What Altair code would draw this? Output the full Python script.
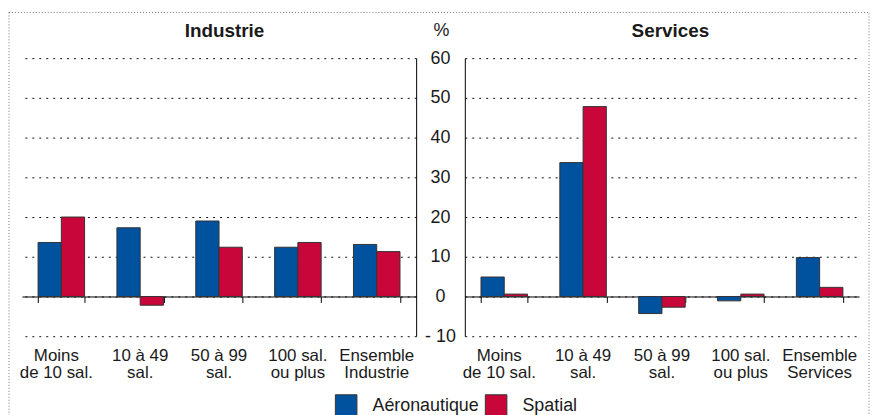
import altair as alt
import pandas as pd

# ---- data ----
cats_ind = ["Moins|de 10 sal.", "10 à 49|sal.", "50 à 99|sal.", "100 sal.|ou plus", "Ensemble|Industrie"]
cats_srv = ["Moins|de 10 sal.", "10 à 49|sal.", "50 à 99|sal.", "100 sal.|ou plus", "Ensemble|Services"]
series = ["Aéronautique", "Spatial"]
ind_aero = [13.6, 17.3, 19.0, 12.4, 13.1]
ind_spat = [20.0, -2.2, 12.4, 13.6, 11.3]
srv_aero = [4.9, 33.7, -4.3, -1.1, 9.8]
srv_spat = [0.6, 47.8, -2.7, 0.6, 2.3]
panel_titles = ["Industrie", "Services"]
y_ticks = [-10, 0, 10, 20, 30, 40, 50, 60]
colors = ["#00519E", "#C8063A"]

FONT = "Liberation Sans"
TXT = "#1a1a1a"
FS = 18
XFS = 17
W, H = 397, 280


def make_df(cats, aero, spat):
    rows = []
    for c, a, s in zip(cats, aero, spat):
        rows.append({"cat": c, "series": series[0], "value": a})
        rows.append({"cat": c, "series": series[1], "value": s})
    return pd.DataFrame(rows)


yscale = alt.Scale(domain=[-10, 60], nice=False, zero=False)
legend = alt.Legend(
    title=None, orient="none", legendX=315, legendY=338, direction="horizontal",
    symbolType="square", symbolSize=471, symbolStrokeColor="#333333",
    symbolStrokeWidth=1, symbolOpacity=1, labelFontSize=FS, labelColor=TXT,
    labelFont=FONT, labelOffset=15, columnPadding=3, padding=0,
)


def panel(cats, aero, spat, title, title_x, side, frame=False):
    df = make_df(cats, aero, spat)
    if side == "left":
        yaxis = alt.Axis(
            orient="right", values=y_ticks, labels=False, ticks=False, domain=True,
            domainColor="black", grid=True, gridDash=[2, 5], gridColor="#111111",
            title=None,
        )
    else:
        yaxis = alt.Axis(
            orient="left", values=y_ticks, labels=True, ticks=False, domain=True,
            domainColor="black", grid=True, gridDash=[2, 5], gridColor="#111111",
            labelFontSize=FS, labelColor=TXT, labelFont=FONT, labelPadding=25,
            labelAlign="center",
            labelExpr="datum.value < 0 ? '- ' + abs(datum.value) : datum.label",
            title="%", titleAngle=0, titleX=-24, titleY=-28, titleAlign="center",
            titleBaseline="middle", titleFontWeight="normal", titleFontSize=FS,
            titleColor=TXT, titleFont=FONT,
        )
    bars = alt.Chart(df).mark_bar(stroke="#333333", strokeWidth=1).encode(
        x=alt.X(
            "cat:N", sort=cats,
            scale=alt.Scale(paddingInner=0.41, paddingOuter=0.205),
            axis=alt.Axis(
                orient="bottom", title=None, labelExpr="split(datum.label, '|')",
                labelAngle=0, ticks=False, domain=False, grid=False,
                labelFontSize=XFS, labelColor=TXT, labelFont=FONT, labelPadding=11,
                labelLineHeight=18, labelBaseline="top",
                labelOffset={"condition": {"test": f"datum.value == '{cats[0]}'",
                                           "value": -5}, "value": 0},
            ),
        ),
        xOffset=alt.XOffset("series:N", sort=series,
                            scale=alt.Scale(paddingInner=0, paddingOuter=0)),
        y=alt.Y("value:Q", scale=yscale, axis=yaxis),
        color=alt.Color("series:N", scale=alt.Scale(domain=series, range=colors),
                        legend=legend),
    )
    zero = alt.Chart(df).mark_point(opacity=0).encode(
        x=alt.X(
            "cat:N", sort=cats,
            axis=alt.Axis(
                orient="bottom", title=None, labels=False, ticks=True,
                tickBand="extent", tickSize=6, tickColor="black", domain=True,
                domainColor="black", grid=False, offset=-40,
            ),
        ),
    )
    ttl = alt.Chart(pd.DataFrame({"t": [title]})).mark_text(
        fontSize=19, fontWeight="bold", font=FONT, color=TXT,
        align="center", baseline="middle",
    ).encode(text="t:N", x=alt.value(title_x), y=alt.value(-27))
    layers = [bars, zero, ttl]
    if frame:
        fr = alt.Chart(pd.DataFrame({"f": [0]})).mark_rect(
            fill="white", fillOpacity=0, stroke="#777777", strokeWidth=1,
            strokeDash=[1, 2],
        ).encode(x=alt.value(-13), x2=alt.value(853), y=alt.value(-46), y2=alt.value(380))
        layers = [fr] + layers
    return alt.layer(*layers).resolve_axis(x="independent").properties(width=W, height=H)


left = panel(cats_ind, ind_aero, ind_spat, panel_titles[0], 204, "left", frame=True)
right = panel(cats_srv, srv_aero, srv_spat, panel_titles[1], 207, "right")

chart = alt.hconcat(left, right, spacing=49, bounds="flush").properties(
    padding={"left": 0, "top": 2, "right": 0, "bottom": 0}
).configure(font=FONT).configure_view(strokeWidth=0)

chart.save("out.html", embed_options={"renderer": "svg", "actions": False})
